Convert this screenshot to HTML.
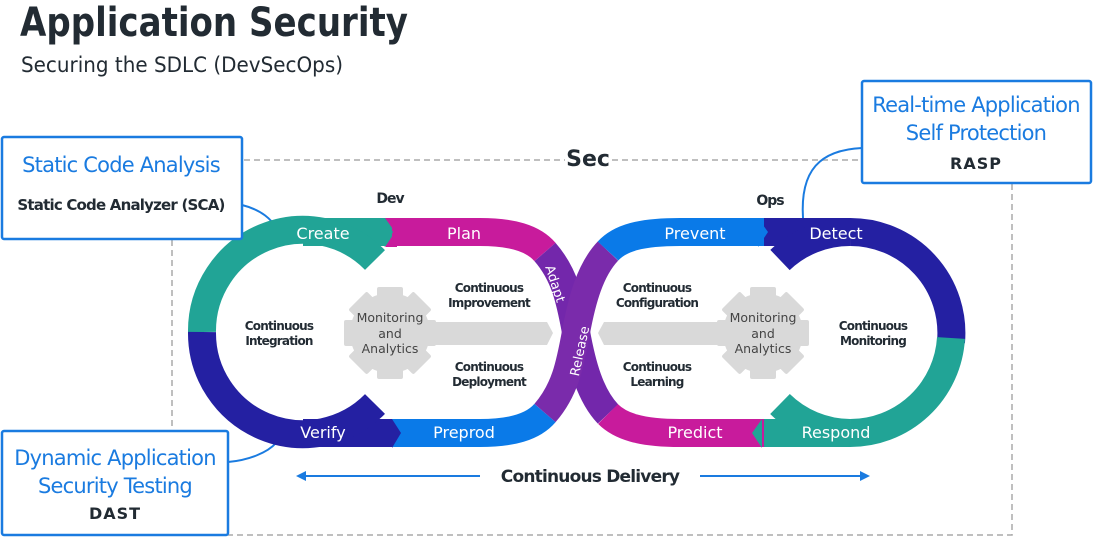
<!DOCTYPE html>
<html><head><meta charset="utf-8"><style>
html,body{margin:0;padding:0;background:#fff;width:1093px;height:538px;overflow:hidden}
svg text{font-family:"DejaVu Sans","Liberation Sans",sans-serif}
</style></head><body>
<svg width="1093" height="538" viewBox="0 0 1093 538" xmlns="http://www.w3.org/2000/svg">
<text x="20" y="36" font-size="40" font-weight="bold" fill="#222b33" textLength="388" lengthAdjust="spacingAndGlyphs">Application Security</text>
<text x="21" y="72" font-size="21" fill="#222b33" textLength="322" lengthAdjust="spacingAndGlyphs">Securing the SDLC (DevSecOps)</text>

<path d="M244 160 H565 M612 160 H862 M1012 184 V535 H228 M172 240 V430" fill="none" stroke="#aaa" stroke-width="1.5" stroke-dasharray="6,4"/>
<text x="588" y="166" font-size="22" font-weight="bold" fill="#222b33" text-anchor="middle">Sec</text>
<text x="390" y="203" font-size="14" font-weight="bold" fill="#222b33" text-anchor="middle" letter-spacing="-1">Dev</text>
<text x="770" y="205" font-size="14" font-weight="bold" fill="#222b33" text-anchor="middle" letter-spacing="-1">Ops</text>

<path d="M242 205 C262 210 272 220 276 228" fill="none" stroke="#1a7be0" stroke-width="2"/>
<path d="M228 462 C250 460 268 452 276 443" fill="none" stroke="#1a7be0" stroke-width="2"/>
<path d="M862 148 C820 150 800 170 803 218" fill="none" stroke="#1a7be0" stroke-width="2"/>

<polygon points="390,322 547,322 553,333 547,345 390,345" fill="#d9d9d9"/>
<polygon points="763,322 604,322 598,333 604,345 763,345" fill="#d9d9d9"/>

<g fill="none" stroke-width="28" stroke-linecap="butt">
<path d="M303 232 H392" stroke="#21a496"/>
<path d="M202 332 A101 101 0 0 1 375 260" stroke="#21a496"/>
<path d="M303 433 H392" stroke="#2420a2"/>
<path d="M202 332 A101 101 0 0 0 375 404" stroke="#2420a2"/>
<path d="M850 232 H764" stroke="#2420a2"/>
<path d="M850 232 A101 101 0 0 1 951 342" stroke="#2420a2"/>
<path d="M850 433 H764" stroke="#21a496"/>
<path d="M951 338 A101 101 0 0 1 850 433" stroke="#21a496"/>
<path d="M780 260 A101 101 0 0 1 850 232" stroke="#2420a2"/>
<path d="M780 404 A101 101 0 0 0 850 433" stroke="#21a496"/>
<path d="M392 232 H480 C512 232 533 238 545 252" stroke="#c81b9c"/>
<path d="M545 252 C565 275 570 300 576 332" stroke="#7327ab"/>
<path d="M576 332 C582 365 590 395 608 414" stroke="#7327ab"/>
<path d="M608 414 C620 426 640 433 680 433 H764" stroke="#c81b9c"/>
<path d="M392 433 H480 C512 433 533 427 545 413" stroke="#0a7ae8"/>
<path d="M545 413 C565 390 570 365 576 332 C582 300 590 270 608 251" stroke="#7a2bab"/>
<path d="M608 251 C620 238 640 232 680 232 H764" stroke="#0a7ae8"/>
</g>
<polygon points="385,218 395,232 385,247 397,247 397,218" fill="#c81b9c"/>
<polygon points="384,218 393,232 384,247" fill="#21a496"/>
<polygon points="392,419 401,433 392,448 392,419" fill="#2420a2"/>
<polygon points="758,218 768,232 758,247" fill="#0a7ae8"/>
<polygon points="762,419 752,433 762,448" fill="#21a496"/>

<g fill="#d9d9d9">
<g transform="translate(390,333)">
<circle r="40"/>
<rect x="-13" y="-46" width="26" height="92" rx="2"/>
<rect x="-13" y="-46" width="26" height="92" rx="2" transform="rotate(45)"/>
<rect x="-13" y="-46" width="26" height="92" rx="2" transform="rotate(90)"/>
<rect x="-13" y="-46" width="26" height="92" rx="2" transform="rotate(135)"/>
</g>
<g transform="translate(763,333)">
<circle r="40"/>
<rect x="-13" y="-46" width="26" height="92" rx="2"/>
<rect x="-13" y="-46" width="26" height="92" rx="2" transform="rotate(45)"/>
<rect x="-13" y="-46" width="26" height="92" rx="2" transform="rotate(90)"/>
<rect x="-13" y="-46" width="26" height="92" rx="2" transform="rotate(135)"/>
</g>
</g>
<g font-size="12.5" fill="#444" text-anchor="middle">
<text x="390" y="322">Monitoring</text><text x="390" y="338">and</text><text x="390" y="353">Analytics</text>
<text x="763" y="322">Monitoring</text><text x="763" y="338">and</text><text x="763" y="353">Analytics</text>
</g>

<g font-size="16" fill="#fff" text-anchor="middle">
<text x="323" y="239">Create</text>
<text x="464" y="239">Plan</text>
<text x="323" y="438">Verify</text>
<text x="464" y="438">Preprod</text>
<text x="695" y="239">Prevent</text>
<text x="836" y="239">Detect</text>
<text x="695" y="438">Predict</text>
<text x="836" y="438">Respond</text>
</g>
<text font-size="13" fill="#fff" text-anchor="middle" transform="translate(551,285) rotate(72)">Adapt</text>
<text font-size="13" fill="#fff" text-anchor="middle" transform="translate(584,352) rotate(-78)">Release</text>

<g font-size="12" font-weight="bold" fill="#222b33" text-anchor="middle" letter-spacing="-0.8">
<text x="279" y="330">Continuous</text><text x="279" y="345">Integration</text>
<text x="489" y="292">Continuous</text><text x="489" y="307">Improvement</text>
<text x="489" y="371">Continuous</text><text x="489" y="386">Deployment</text>
<text x="657" y="292">Continuous</text><text x="657" y="307">Configuration</text>
<text x="657" y="371">Continuous</text><text x="657" y="386">Learning</text>
<text x="873" y="330">Continuous</text><text x="873" y="345">Monitoring</text>
</g>

<text x="590" y="482" font-size="17" font-weight="bold" fill="#222b33" text-anchor="middle" letter-spacing="-0.8">Continuous Delivery</text>
<path d="M304 476 H480 M700 476 H862" stroke="#1a7be0" stroke-width="2"/>
<polygon points="296,476 306,471 306,481" fill="#1a7be0"/>
<polygon points="870,476 860,471 860,481" fill="#1a7be0"/>

<rect x="2" y="137" width="240" height="102" fill="#fff" stroke="#1a7be0" stroke-width="2.5" rx="2"/>
<text x="121" y="172" font-size="21" fill="#1a7be0" text-anchor="middle" letter-spacing="-0.8">Static Code Analysis</text>
<text x="121" y="210" font-size="15" font-weight="bold" fill="#222b33" text-anchor="middle" letter-spacing="-0.8">Static Code Analyzer (SCA)</text>

<rect x="862" y="81" width="229" height="102" fill="#fff" stroke="#1a7be0" stroke-width="2.5" rx="2"/>
<text x="976" y="112" font-size="21" fill="#1a7be0" text-anchor="middle" letter-spacing="-0.8">Real-time Application</text>
<text x="976" y="140" font-size="21" fill="#1a7be0" text-anchor="middle" letter-spacing="-0.8">Self Protection</text>
<text x="976" y="169" font-size="16" font-weight="bold" fill="#222b33" text-anchor="middle" letter-spacing="1">RASP</text>

<rect x="2" y="431" width="226" height="104" fill="#fff" stroke="#1a7be0" stroke-width="2.5" rx="2"/>
<text x="115" y="465" font-size="21" fill="#1a7be0" text-anchor="middle" letter-spacing="-0.8">Dynamic Application</text>
<text x="115" y="493" font-size="21" fill="#1a7be0" text-anchor="middle" letter-spacing="-0.8">Security Testing</text>
<text x="115" y="519" font-size="16" font-weight="bold" fill="#222b33" text-anchor="middle" letter-spacing="1">DAST</text>
</svg>
</body></html>
